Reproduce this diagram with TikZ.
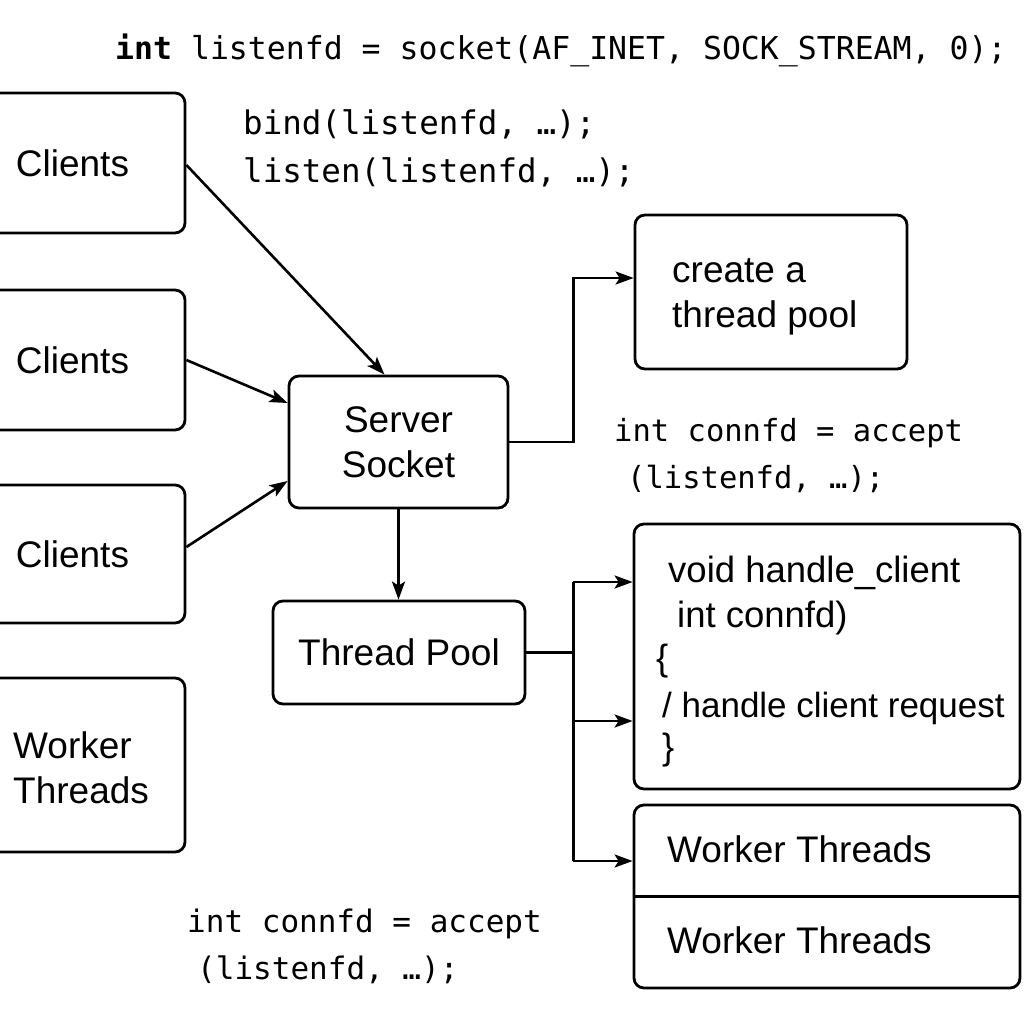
\documentclass[tikz,border=0pt]{standalone}
\usepackage{fontspec}
\setmainfont{Liberation Sans}
\setmonofont{DejaVu Sans Mono}
\usetikzlibrary{arrows.meta,calc}
\begin{document}
\begin{tikzpicture}[x=1pt,y=-1pt,
  box/.style={draw,line width=2.8pt,rounded corners=10pt,inner sep=0pt},
  sans/.style={font=\fontsize{37}{45}\selectfont},
  lbl/.style={inner sep=0pt,anchor=base west,font=\fontsize{37}{45}\selectfont},
  code/.style={inner sep=0pt,anchor=base west,font=\fontsize{31.5}{40}\selectfont\ttfamily},
  arr/.style={line width=2.6pt,-{Stealth[length=18pt,width=13pt,inset=4pt]}},
  ln/.style={line width=2.6pt}]
\useasboundingbox (0,0) rectangle (1024,1024);
% left column boxes
\node[box,sans,minimum width=225pt,minimum height=140pt] (c1) at (72.5,163) {Clients};
\node[box,sans,minimum width=225pt,minimum height=140pt] (c2) at (72.5,360) {Clients};
\node[box,sans,minimum width=225pt,minimum height=138pt] (c3) at (72.5,554) {Clients};
\node[box,minimum width=225pt,minimum height=174pt] (wl) at (72.5,765) {};
\node[sans,align=left,inner sep=0pt,anchor=west] (wlt) at (13,768) {Worker\\Threads};
% centre boxes
\node[box,sans,align=center,minimum width=219pt,minimum height=132pt] (srv) at (398.5,442) {Server\\Socket};
\node[box,sans,minimum width=252pt,minimum height=103pt] (tp) at (399,652.5) {Thread Pool};
% right boxes
\node[box,minimum width=272pt,minimum height=154pt] (cr) at (771,292) {};
\node[sans,align=left,inner sep=0pt,anchor=west] (crt) at (672,297) {create a\\thread pool};
\node[box,minimum width=386pt,minimum height=265pt] (hc) at (827,656.5) {};
\node[box,minimum width=386pt,minimum height=183pt] (wt) at (827,896.5) {};
\draw[ln] (wt.west) -- (wt.east);
% text in handle_client box
\node[lbl,font=\fontsize{36.5}{45}\selectfont] (h1t) at (668,582) {void handle\_client};
\node[lbl,font=\fontsize{36.5}{45}\selectfont] (h2t) at (677,627) {int connfd)};
\node[lbl,font=\fontsize{36.5}{45}\selectfont] (h3t) at (656,670) {\{};
\node[lbl,font=\fontsize{35}{45}\selectfont] (h4t) at (662,717) {/ handle client request};
\node[lbl,font=\fontsize{36.5}{45}\selectfont] (h5t) at (662,759) {\}};
% text in worker box
\node[lbl] (w1t) at (667,862) {Worker Threads};
\node[lbl] (w2t) at (667,953) {Worker Threads};
% code texts
\node[code] (t0) at (115,60) {\textbf{int} listenfd = socket(AF\_INET, SOCK\_STREAM, 0);};
\node[code,font=\fontsize{32.5}{40}\selectfont\ttfamily] (t1) at (243,135) {bind(listenfd, …);};
\node[code,font=\fontsize{32.5}{40}\selectfont\ttfamily] (t2) at (243,183) {listen(listenfd, …);};
\node[code,font=\fontsize{30.5}{40}\selectfont\ttfamily] (t3) at (614,441) {int connfd = accept};
\node[code,font=\fontsize{30.5}{40}\selectfont\ttfamily] (t4) at (627,488) {(listenfd, …);};
\node[code,font=\fontsize{31}{40}\selectfont\ttfamily] (t5) at (187,932) {int connfd = accept};
\node[code,font=\fontsize{31}{40}\selectfont\ttfamily] (t6) at (197,979) {(listenfd, …);};
% connectors
\draw[arr] ([yshift=-2pt]c1.east) -- ([xshift=-14pt]srv.north);
\draw[arr] (c2.east) -- ([yshift=39pt]srv.west);
\draw[arr] ([yshift=7pt]c3.east) -- ([yshift=-39pt]srv.west);
\draw[arr] (srv.south) -- (srv.south |- tp.north);
\coordinate (k) at ([xshift=64pt]srv.east);
\draw[arr] (srv.east) -- (k) |- ([yshift=14pt]cr.west);
\coordinate (j) at ([xshift=47pt]tp.east);
\coordinate (h1) at ([yshift=74.5pt]hc.west);
\coordinate (h2) at ([yshift=-64.5pt]hc.west);
\coordinate (w1) at ([yshift=35.5pt]wt.west);
\draw[ln] (tp.east) -- (j);
\draw[ln] (j |- h1) -- (j |- w1);
\draw[arr] (j |- h1) -- (h1);
\draw[arr] (j |- h2) -- (h2);
\draw[arr] (j |- w1) -- (w1);
\end{tikzpicture}
\end{document}
